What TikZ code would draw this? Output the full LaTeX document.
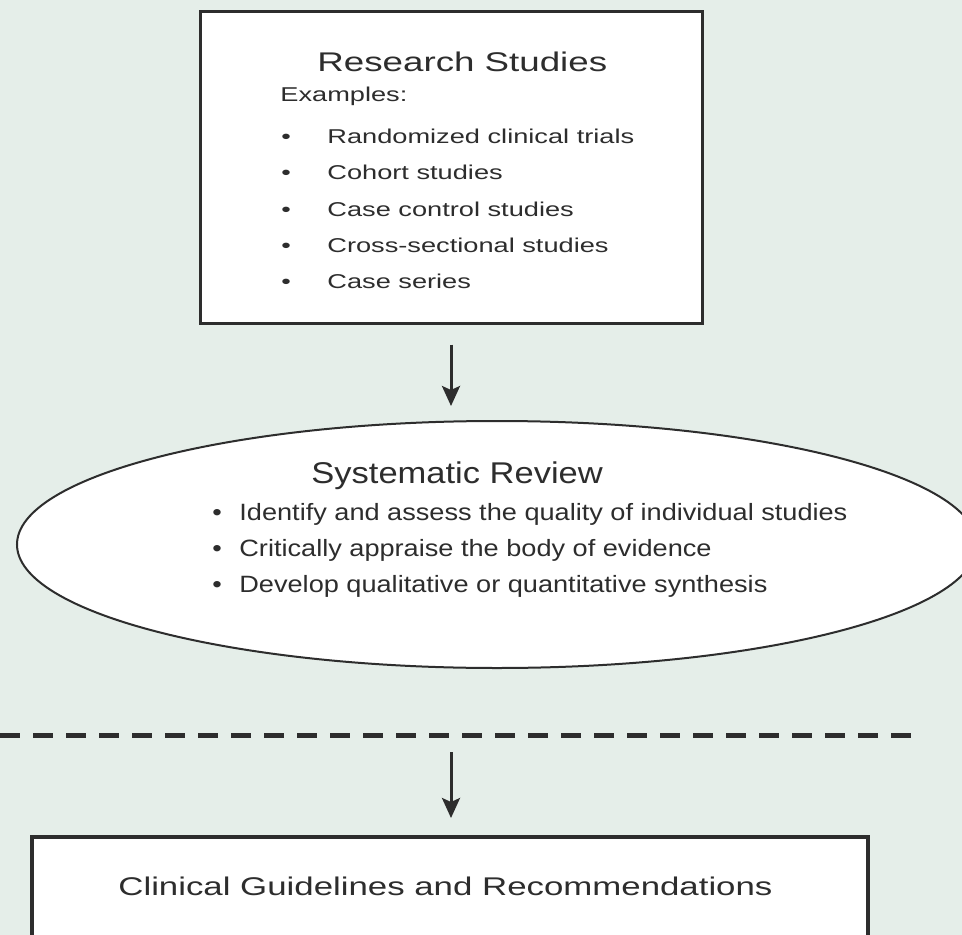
\documentclass[tikz,border=0pt]{standalone}
\usepackage{fontspec}
\setmainfont{Liberation Sans}
\newfontfamily\boxfont[FakeStretch=1.36]{Liberation Sans}
\newfontfamily\ovalfont[FakeStretch=1.15]{Liberation Sans}
\usetikzlibrary{shapes.geometric,arrows.meta}
\definecolor{bggreen}{RGB}{229,238,233}
\definecolor{inkgray}{RGB}{45,45,45}
\tikzset{
  boxed/.style={draw=inkgray, fill=white, line width=1.5pt, inner sep=0pt},
  txt/.style={anchor=base west, inner sep=0pt, text=inkgray},
  flow/.style={-{Stealth[length=10pt,width=9pt,inset=2pt]}, line width=1.5pt, draw=inkgray}
}
\begin{document}
\begin{tikzpicture}[x=0.5pt, y=-0.5pt] % px grid, y down
		\useasboundingbox (0,0) rectangle (962,935);
		\begin{scope}
			\clip (0,0) rectangle (962,935);
			\fill[bggreen] (0,0) rectangle (962,935);

			% studies box
			\node[boxed, minimum width=251pt, minimum height=155.5pt] (rs) at (451,167.5) {};
			\node[txt, font=\boxfont\fontsize{13.5pt}{16pt}\selectfont] (rstitle) at (317,72) {Research Studies};
			\node[txt, font=\boxfont\fontsize{10pt}{12pt}\selectfont] (rsex) at (280,102) {Examples:};
			\node[txt, font=\boxfont\fontsize{10pt}{12pt}\selectfont] (b1) at (281,144) {•};
			\node[txt, font=\boxfont\fontsize{10pt}{12pt}\selectfont] (rct) at (327,144) {Randomized clinical trials};
			\node[txt, font=\boxfont\fontsize{10pt}{12pt}\selectfont] (b2) at (281,180) {•};
			\node[txt, font=\boxfont\fontsize{10pt}{12pt}\selectfont] (coh) at (327,180) {Cohort studies};
			\node[txt, font=\boxfont\fontsize{10pt}{12pt}\selectfont] (b3) at (281,217) {•};
			\node[txt, font=\boxfont\fontsize{10pt}{12pt}\selectfont] (cc) at (327,217) {Case control studies};
			\node[txt, font=\boxfont\fontsize{10pt}{12pt}\selectfont] (b4) at (281,253) {•};
			\node[txt, font=\boxfont\fontsize{10pt}{12pt}\selectfont] (cs) at (327,253) {Cross-sectional studies};
			\node[txt, font=\boxfont\fontsize{10pt}{12pt}\selectfont] (b5) at (281,289) {•};
			\node[txt, font=\boxfont\fontsize{10pt}{12pt}\selectfont] (ser) at (327,289) {Case series};

			% review oval
			\node[ellipse, draw=inkgray, fill=white, line width=1pt, inner sep=0pt,
				minimum width=480pt, minimum height=123.5pt] (sr) at (497,544.5) {};
			\node[txt, font=\ovalfont\fontsize{15pt}{18pt}\selectfont] (srtitle) at (311,483) {Systematic Review};
			\node[txt, font=\ovalfont\fontsize{11.8pt}{14pt}\selectfont] (c1) at (212,520) {•};
			\node[txt, font=\ovalfont\fontsize{11.8pt}{14pt}\selectfont] (idq) at (239,520) {Identify and assess the quality of individual studies};
			\node[txt, font=\ovalfont\fontsize{11.8pt}{14pt}\selectfont] (c2) at (212,556) {•};
			\node[txt, font=\ovalfont\fontsize{11.8pt}{14pt}\selectfont] (cab) at (239,556) {Critically appraise the body of evidence};
			\node[txt, font=\ovalfont\fontsize{11.8pt}{14pt}\selectfont] (c3) at (212,592) {•};
			\node[txt, font=\ovalfont\fontsize{11.8pt}{14pt}\selectfont] (dqs) at (239,592) {Develop qualitative or quantitative synthesis};

			\draw[flow, shorten <=10pt, shorten >=7pt] (rs.south) -- (rs.south |- sr.north);

			% divider
			\draw[line width=2.5pt, draw=inkgray, dash pattern=on 10pt off 6.5pt] (0,735) -- (918,735);
			\coordinate (cut) at (451,735);

			% guidelines box
			\node[boxed, line width=2pt, minimum width=418pt, minimum height=81.5pt] (gl) at (450,918.5) {};
			\node[txt, font=\boxfont\fontsize{12.8pt}{15pt}\selectfont] (gltitle) at (118,895) {Clinical Guidelines and Recommendations};

			\draw[flow, shorten <=8.5pt, shorten >=8.5pt] (cut) -- (cut |- gl.north);
		\end{scope}
\end{tikzpicture}
\end{document}
